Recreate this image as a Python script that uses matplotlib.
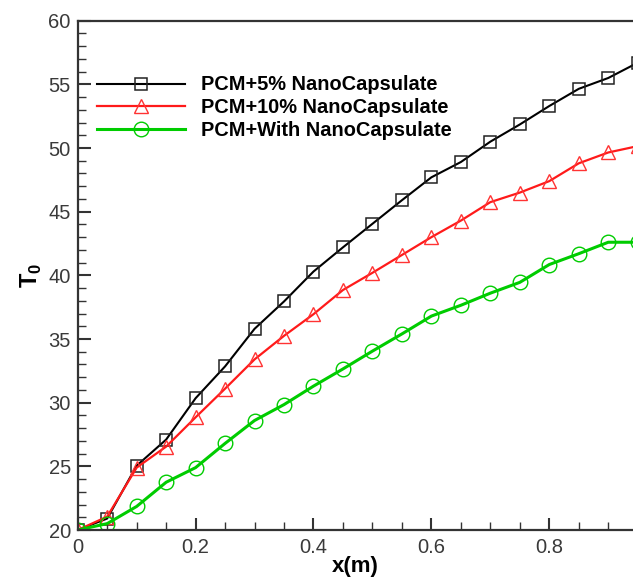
import numpy as np
import matplotlib.pyplot as plt
from matplotlib.ticker import MultipleLocator

plt.rcParams['font.family'] = ['Liberation Sans', 'DejaVu Sans']
plt.rcParams['mathtext.fontset'] = 'custom'
plt.rcParams['mathtext.rm'] = 'Liberation Sans'
plt.rcParams['mathtext.bf'] = 'Liberation Sans:bold'

x = [0.0, 0.05, 0.1, 0.15, 0.2, 0.25, 0.3, 0.35, 0.4, 0.45, 0.5,
     0.55, 0.6, 0.65, 0.7, 0.75, 0.8, 0.85, 0.9, 0.95]
t_5 = [20.0, 20.9, 25.05, 27.1, 30.35, 32.85, 35.8, 37.95, 40.3, 42.2, 44.05,
       45.9, 47.7, 48.9, 50.5, 51.85, 53.3, 54.65, 55.5, 56.7]
t_10 = [20.0, 21.05, 24.9, 26.55, 28.85, 31.1, 33.4, 35.25, 36.95, 38.85, 40.2,
        41.6, 43.0, 44.3, 45.75, 46.5, 47.4, 48.8, 49.65, 50.15]
t_with = [20.0, 20.5, 21.85, 23.75, 24.9, 26.8, 28.6, 29.85, 31.3, 32.65, 34.05,
          35.4, 36.8, 37.65, 38.6, 39.45, 40.85, 41.7, 42.6, 42.6]
labels = ['PCM+5% NanoCapsulate', 'PCM+10% NanoCapsulate', 'PCM+With NanoCapsulate']

fig = plt.figure(figsize=(6.33, 5.78), dpi=100)
W, H = 633, 578
ax = fig.add_axes([77.7 / W, 1 - 530 / H, 1 - 77.7 / W, (530 - 20.7) / H])

ax.plot(x, t_5, color='black', lw=1.5, marker='s', ms=8, mfc='none', mec='#222222',
        mew=1.1, label=labels[0])
ax.plot(x, t_10, color='#ff1a1a', lw=1.6, marker='^', ms=10, mfc='none', mec='#ff3333',
        mew=1.0, label=labels[1])
ax.plot(x, t_with, color='#00cc00', lw=2.2, marker='o', ms=10.5, mfc='none', mec='#00cc00',
        mew=1.0, label=labels[2])

ax.set_xlim(0, 0.942)
ax.set_ylim(20, 60)
ax.xaxis.set_minor_locator(MultipleLocator(0.05))
ax.yaxis.set_major_locator(MultipleLocator(5))
ax.yaxis.set_minor_locator(MultipleLocator(1))
ax.set_xticks([0, 0.2, 0.4, 0.6, 0.8])
ax.set_xticklabels(['0', '0.2', '0.4', '0.6', '0.8'])

ax.tick_params(which='both', direction='in', color='#333333', labelcolor='#3a3a3a',
               labelsize=14.5, top=False, right=False)
ax.tick_params(which='major', length=9, width=1.5)
ax.tick_params(which='minor', length=5.5, width=1.0)
ax.tick_params(axis='y', pad=5)
ax.tick_params(axis='x', pad=6)

ax.spines['right'].set_visible(False)
for s in ['left', 'bottom', 'top']:
    ax.spines[s].set_color('#333333')
    ax.spines[s].set_linewidth(1.6)

ax.set_xlabel('x(m)', fontsize=16, fontweight='bold', labelpad=-1)
ax.set_ylabel(r'$\mathbf{T}_{\mathbf{0}}$', fontsize=17, labelpad=3)

leg = ax.legend(loc='upper left', bbox_to_anchor=(97 / W, 1 - 75.5 / H),
                bbox_transform=fig.transFigure, frameon=False, borderpad=0,
                borderaxespad=0, handlelength=4.4, handletextpad=0.8,
                labelspacing=0.18, prop={'weight': 'bold', 'size': 14.4})

fig.savefig('out.png', dpi=100)
